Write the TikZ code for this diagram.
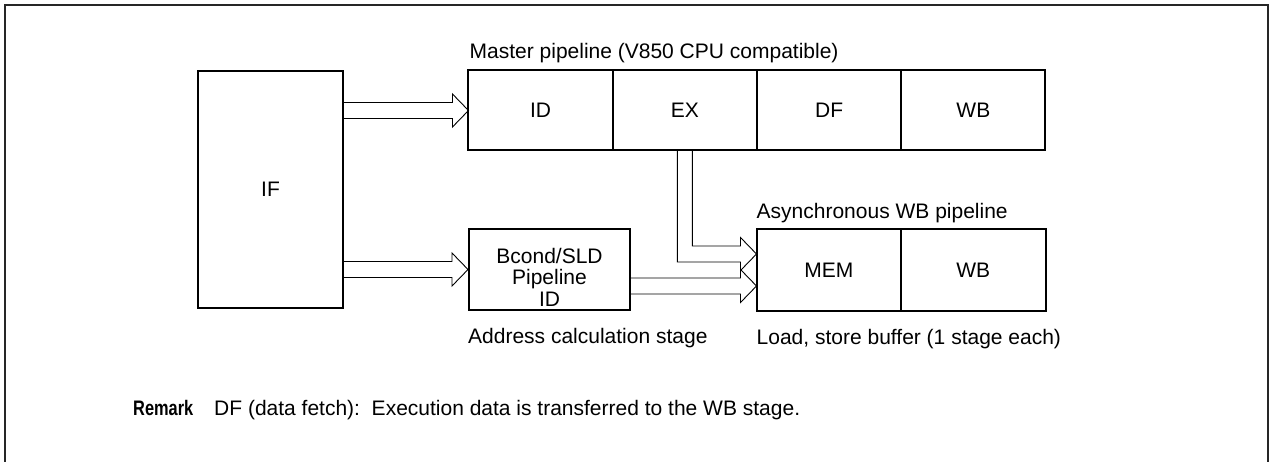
\documentclass[tikz,border=0pt]{standalone}
\usepackage{fontspec}
\setmainfont{Liberation Sans}
\newfontfamily\narrowfont[FakeStretch=0.78]{Liberation Sans}
\usetikzlibrary{positioning, calc}

% hollow double-line arrow from #1 to the tip #2
\newcommand{\fatarrow}[2]{%
  \draw[flow] ($(#1)+(0,-8)$) -- ($(#2)+(-16,-8)$) -- ($(#2)+(-16,-16.5)$) -- (#2)
    -- ($(#2)+(-16,16.5)$) -- ($(#2)+(-16,8)$) -- ($(#1)+(0,8)$);}

\begin{document}
\begin{tikzpicture}[
      x=1pt, y=-1pt,
      every node/.style={font=\fontsize{21}{21.5}\selectfont, inner sep=0pt},
      stage/.style={draw, line width=1pt, minimum width=143.25pt, minimum height=79pt},
      block/.style={draw, line width=2pt, align=center},
      flow/.style={line width=0.9pt},
      frame/.style={line width=1.5pt, draw=black!85},
    ]
    \useasboundingbox (0,0) rectangle (1271,462);
    \draw[frame] (5,462) -- (5,5) -- (1268,5) -- (1268,462);

    \node[block, minimum width=145pt, minimum height=237pt] (if) at (270.5,189.5) {IF};

    % master pipeline
    \node[stage] (id) at (540.6,110.5) {ID};
    \node[stage, right=0pt of id] (ex) {EX};
    \node[stage, right=0pt of ex] (df) {DF};
    \node[stage, right=0pt of df] (wb) {WB};
    \draw[line width=2pt] (id.north west) rectangle (wb.south east);
    \node[anchor=base west] (mtitle) at ($(id.north west)+(1,-12)$) {Master pipeline (V850 CPU compatible)};

    % asynchronous WB pipeline
    \node[stage, minimum width=143.5pt, minimum height=80pt] (mem) at (828.75,270) {MEM};
    \node[stage, minimum width=143.5pt, minimum height=80pt, right=0pt of mem] (wbb) {WB};
    \draw[line width=2pt] (mem.north west) rectangle (wbb.south east);
    \node[anchor=base west] (atitle) at ($(mem.north west)+(0,-11)$) {Asynchronous WB pipeline};
    \node[anchor=base west] (acap) at ($(mem.south west)+(0,34)$) {Load, store buffer (1 stage each)};

    \node[block, minimum width=161pt, minimum height=81pt] (bc) at (549.5,269.5) {\rule{0pt}{30pt}Bcond/SLD\\Pipeline\\ID};
    \node[anchor=base west] (bcap) at ($(bc.south west)+(0,32)$) {Address calculation stage};

    % connectors
    \coordinate (a1) at (if.east |- id.west);
    \coordinate (a2) at (if.east |- bc.west);
    \fatarrow{a1}{id.west}
    \fatarrow{a2}{bc.west}
    \coordinate (t1) at ($(mem.west)+(0,-16)$);
    \coordinate (t2) at ($(mem.west)+(0,16)$);
    \draw[flow] ($(ex.south)+(-7.5,0)$) |- ($(t1)+(-16,8)$) -- ($(t1)+(-16,16.5)$) -- (t1)
      -- ($(t1)+(-16,-16.5)$) -- ($(t1)+(-16,-8)$) -| ($(ex.south)+(7.5,0)$);
    \coordinate (a3) at (bc.east |- t2);
    \fatarrow{a3}{t2}

    \node[anchor=base west] (rem) at (133,415) {\narrowfont\bfseries Remark};
    \node[anchor=base west] (remtxt) at (214,415) {DF (data fetch):\ \ Execution data is transferred to the WB stage.};
  \end{tikzpicture}
\end{document}
